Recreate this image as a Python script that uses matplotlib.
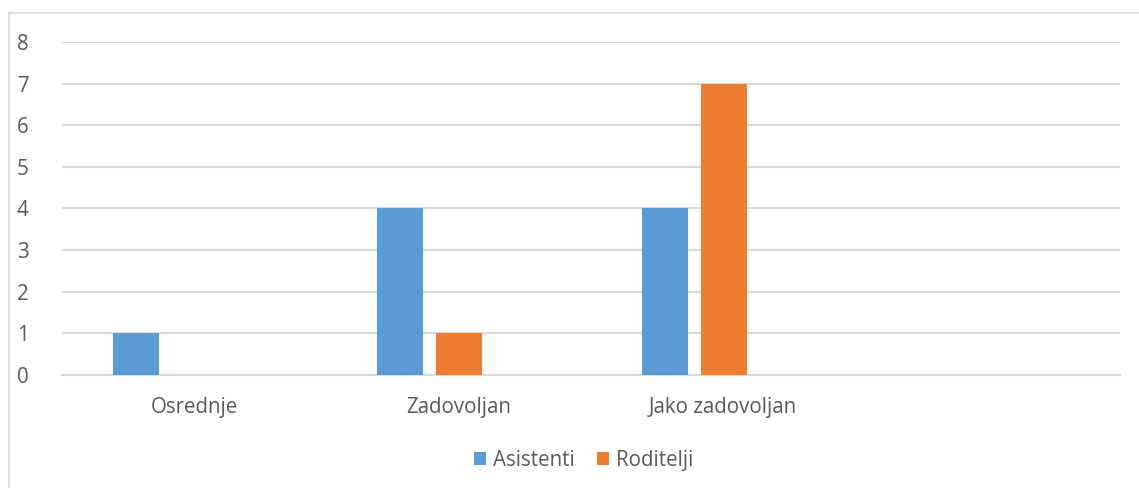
import numpy as np
import matplotlib.pyplot as plt
from matplotlib.patches import Rectangle

plt.rcParams['font.family'] = ['Open Sans', 'DejaVu Sans']

# Data
categories = ['Osrednje', 'Zadovoljan', 'Jako zadovoljan', '']
asistenti = [1, 4, 4, 0]
roditelji = [0, 1, 7, 0]

blue = '#5B9BD5'
orange = '#ED7D31'
text_col = '#595959'
grid_col = '#D9D9D9'

fig = plt.figure(figsize=(11.39, 4.88), dpi=100)
ax = fig.add_axes([0.0544, 0.2316, 0.9289, 0.6824])

x = np.arange(len(categories))
w = 0.174
ax.bar(x - 0.221, asistenti, w, color=blue, label='Asistenti', zorder=3)
ax.bar(x + 0.002, roditelji, w, color=orange, label='Roditelji', zorder=3)

ax.set_xlim(-0.5, len(categories) - 0.5)
ax.set_ylim(0, 8)
ax.set_yticks(range(0, 9))
ax.yaxis.grid(True, color=grid_col, linewidth=1.5, zorder=0)
ax.set_axisbelow(True)
for s in ['top', 'right', 'left']:
    ax.spines[s].set_visible(False)
ax.spines['bottom'].set_color(grid_col)
ax.spines['bottom'].set_linewidth(1.5)

ax.set_xticks(x)
ax.set_xticklabels(categories)
ax.tick_params(axis='both', length=0, labelsize=14.8, colors=text_col)
ax.tick_params(axis='y', pad=24)
ax.tick_params(axis='x', pad=16)

leg = fig.legend(loc='center', bbox_to_anchor=(0.5125, 0.057), ncol=2, frameon=False,
                 fontsize=14.8, handlelength=0.58, handleheight=0.58,
                 handletextpad=0.38, columnspacing=1.05)
for t in leg.get_texts():
    t.set_color(text_col)

# outer chart border (only top and left visible in the crop)
fig.patches.append(Rectangle((9 / 1139, -0.1), 1.2, 0.9734 + 0.1, transform=fig.transFigure,
                             fill=False, edgecolor=grid_col, linewidth=1.2))

fig.savefig('out.png', dpi=100)
